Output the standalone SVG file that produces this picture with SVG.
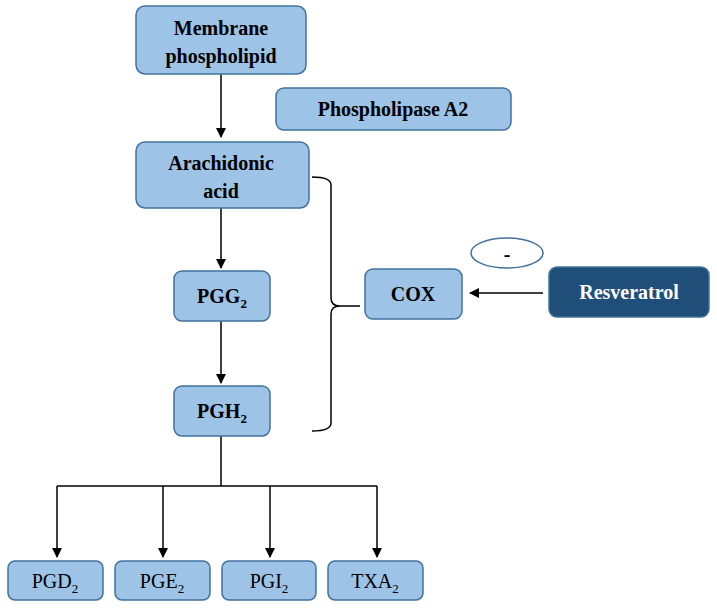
<svg xmlns="http://www.w3.org/2000/svg" width="717" height="609" viewBox="0 0 717 609">
<style>
.b{fill:#9dc3e6;stroke:#41719c;stroke-width:1.5}
.t{font-family:"Liberation Serif",serif;font-size:20px;fill:#000;text-anchor:middle}
.bt{font-weight:bold}
.c{stroke:#000;stroke-width:1.5;fill:none}
</style>
<defs><marker id="a" markerWidth="10" markerHeight="10" refX="9" refY="5" orient="auto" markerUnits="userSpaceOnUse"><path d="M0,0L10,5L0,10z" fill="#000"/></marker></defs>
<rect width="717" height="609" fill="#fff"/>
<g id="connectors" class="c">
<line x1="221" y1="74" x2="221" y2="137" marker-end="url(#a)"/>
<line x1="221" y1="208" x2="221" y2="268" marker-end="url(#a)"/>
<line x1="221" y1="321" x2="221" y2="383" marker-end="url(#a)"/>
<polyline points="221,436 221,486"/>
<line x1="57" y1="486" x2="377" y2="486"/>
<line x1="57" y1="486" x2="57" y2="557" marker-end="url(#a)"/>
<line x1="163" y1="486" x2="163" y2="557" marker-end="url(#a)"/>
<line x1="270" y1="486" x2="270" y2="557" marker-end="url(#a)"/>
<line x1="377" y1="486" x2="377" y2="557" marker-end="url(#a)"/>
<line x1="543" y1="293" x2="470" y2="293" marker-end="url(#a)"/>
<path d="M312,177 Q331,177 331,185 L331,298 Q331,306 340,306 L360,306 M340,306 Q331,306 331,314 L331,423 Q331,431 312,431"/>
</g>
<g id="membrane"><rect class="b" x="136" y="6" width="170" height="68" rx="9"/><text class="t bt" x="221" y="35">Membrane</text><text class="t bt" x="221" y="63">phospholipid</text></g>
<g id="pla2"><rect class="b" x="276" y="88" width="235" height="42" rx="8"/><text class="t bt" x="393" y="116">Phospholipase A2</text></g>
<g id="aa"><rect class="b" x="136" y="142" width="173" height="66" rx="9"/><text class="t bt" x="221" y="170">Arachidonic</text><text class="t bt" x="221" y="198">acid</text></g>
<g id="pgg2"><rect class="b" x="174" y="271" width="96" height="50" rx="8"/><text class="t bt" x="222" y="303">PGG<tspan font-size="13" dy="5">2</tspan></text></g>
<g id="pgh2"><rect class="b" x="174" y="386" width="96" height="50" rx="8"/><text class="t bt" x="222" y="418">PGH<tspan font-size="13" dy="5">2</tspan></text></g>
<g id="cox"><rect class="b" x="365" y="269" width="97" height="50" rx="8"/><text class="t bt" x="413" y="301">COX</text></g>
<g id="resveratrol"><rect x="549" y="267" width="160" height="50" rx="8" fill="#1f4e79" stroke="#41719c" stroke-width="1.5"/><text class="t bt" x="629" y="299" fill="#fff" style="fill:#fff">Resveratrol</text></g>
<g id="minus"><ellipse cx="507" cy="253" rx="36" ry="15" fill="#fff" stroke="#41719c" stroke-width="1.5"/><text class="t bt" x="507" y="261">-</text></g>
<g id="pgd2"><rect class="b" x="8" y="561" width="95" height="39" rx="7"/><text class="t" x="55" y="588">PGD<tspan font-size="13" dy="5">2</tspan></text></g>
<g id="pge2"><rect class="b" x="115" y="561" width="95" height="39" rx="7"/><text class="t" x="162" y="588">PGE<tspan font-size="13" dy="5">2</tspan></text></g>
<g id="pgi2"><rect class="b" x="222" y="561" width="94" height="39" rx="7"/><text class="t" x="269" y="588">PGI<tspan font-size="13" dy="5">2</tspan></text></g>
<g id="txa2"><rect class="b" x="328" y="561" width="95" height="39" rx="7"/><text class="t" x="375" y="588">TXA<tspan font-size="13" dy="5">2</tspan></text></g>
</svg>
